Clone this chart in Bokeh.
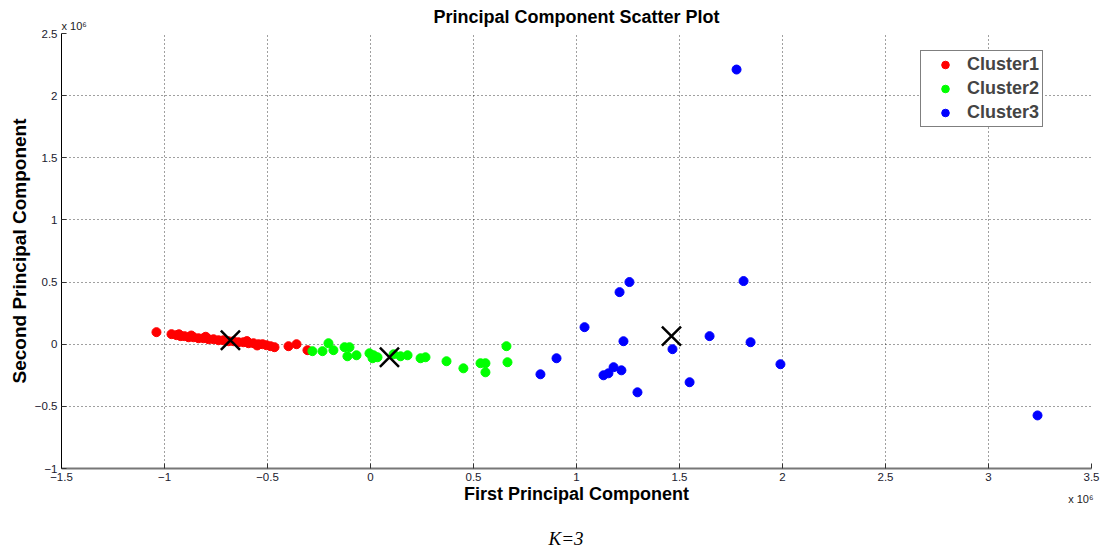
from bokeh.plotting import figure
from bokeh.models import Range1d, FixedTicker, Legend, LegendItem, Title
from bokeh.embed import file_html
from bokeh.resources import INLINE

# Values in units of 1e6
red_x = [-1.039, -0.966, -0.942, -0.922, -0.903, -0.883, -0.859, -0.835, -0.811, -0.786,
         -0.762, -0.738, -0.714, -0.689, -0.665, -0.641, -0.617, -0.592, -0.568, -0.544,
         -0.524, -0.505, -0.485, -0.466, -0.398, -0.359, -0.306, -0.93, -0.87, -0.80, -0.60, -0.55]
red_y = [0.097, 0.081, 0.073, 0.065, 0.065, 0.056, 0.056, 0.048, 0.048, 0.040,
         0.040, 0.032, 0.032, 0.024, 0.024, 0.016, 0.016, 0.008, 0.008, 0.000,
         0.000, -0.008, -0.016, -0.024, -0.016, 0.000, -0.048, 0.080, 0.070, 0.060, 0.025, -0.010]

green_x = [-0.282, -0.233, -0.204, -0.180, -0.126, -0.102, -0.112, -0.068, -0.005, 0.010,
           0.034, 0.015, 0.112, 0.146, 0.180, 0.243, 0.267, 0.369, 0.451, 0.534,
           0.558, 0.558, 0.660, 0.665]
green_y = [-0.056, -0.056, 0.008, -0.048, -0.024, -0.024, -0.097, -0.089, -0.073, -0.113,
           -0.105, -0.089, -0.081, -0.097, -0.089, -0.113, -0.105, -0.137, -0.194, -0.153,
           -0.153, -0.226, -0.016, -0.145]

blue_x = [0.825, 0.903, 1.039, 1.131, 1.155, 1.180, 1.218, 1.209, 1.257, 1.228,
          1.296, 1.466, 1.549, 1.646, 1.811, 1.845, 1.990, 1.777, 3.238]
blue_y = [-0.242, -0.113, 0.137, -0.250, -0.234, -0.185, -0.210, 0.419, 0.500, 0.024,
          -0.387, -0.040, -0.306, 0.065, 0.508, 0.016, -0.161, 2.210, -0.573]

centroid_x = [-0.680, 0.092, 1.461]
centroid_y = [0.032, -0.105, 0.065]

cluster_names = ["Cluster1", "Cluster2", "Cluster3"]
cluster_colors = ["#ff0000", "#00ff00", "#0000ff"]

x_ticks = [-1.5, -1.0, -0.5, 0.0, 0.5, 1.0, 1.5, 2.0, 2.5, 3.0, 3.5]
x_tick_labels = ["\u22121.5", "\u22121", "\u22120.5", "0", "0.5", "1", "1.5", "2", "2.5", "3", "3.5"]
y_ticks = [-1.0, -0.5, 0.0, 0.5, 1.0, 1.5, 2.0, 2.5]
y_tick_labels = ["\u22121", "\u22120.5", "0", "0.5", "1", "1.5", "2", "2.5"]

title_text = "Principal Component Scatter Plot"
x_label = "First Principal Component"
y_label = "Second Principal Component"
scale_text = "x 10\u2076"
caption_text = "K=3"

FONT = "Liberation Sans"

p = figure(width=1100, height=548, x_range=Range1d(-1.5, 3.5), y_range=Range1d(-1, 2.5),
           output_backend="svg", toolbar_location=None,
           min_border_left=61, min_border_right=9, min_border_top=33, min_border_bottom=80)
p.outline_line_color = None
p.background_fill_color = "white"
p.border_fill_color = "white"

# top: scale factor (nearest the frame), then the title
p.add_layout(Title(text=scale_text, align="left", vertical_align="bottom", standoff=3,
                   text_font=FONT, text_font_size="11px", text_font_style="normal",
                   text_color="#222222"), "above")
p.add_layout(Title(text=title_text, align="center", vertical_align="bottom", standoff=-21,
                   text_font=FONT, text_font_size="18px", text_font_style="bold",
                   text_color="black"), "above")

for ax, ticks, labels in ((p.xaxis[0], x_ticks, x_tick_labels), (p.yaxis[0], y_ticks, y_tick_labels)):
    ax.ticker = FixedTicker(ticks=ticks)
    ax.major_label_overrides = {t: l for t, l in zip(ticks, labels)}
    ax.major_label_text_font = FONT
    ax.major_label_text_font_size = "11.5px"
    ax.major_label_text_color = "#1a1a2e"
    ax.major_tick_in = 5
    ax.major_tick_out = 0
    ax.minor_tick_line_color = None
    ax.major_tick_line_color = "#333333"
    ax.major_label_standoff = 4
    ax.axis_label_text_font = FONT
    ax.axis_label_text_font_style = "bold"
    ax.axis_label_text_color = "black"

p.xaxis.axis_label = x_label
p.yaxis.axis_label = y_label
p.xaxis.axis_label_text_font_size = "18px"
p.yaxis.axis_label_text_font_size = "19px"
p.xaxis.axis_line_color = "#777777"
p.xaxis.axis_line_width = 2
p.yaxis.axis_line_color = "black"
p.xaxis.axis_label_standoff = 0
p.yaxis.axis_label_standoff = 2

for g in (p.xgrid[0], p.ygrid[0]):
    g.grid_line_color = "black"
    g.grid_line_dash = "1 3"
    g.grid_line_alpha = 0.75

r1 = p.scatter(red_x, red_y, size=9, fill_color=cluster_colors[0], line_color=cluster_colors[0])
r2 = p.scatter(green_x, green_y, size=9, fill_color=cluster_colors[1], line_color=cluster_colors[1])
r3 = p.scatter(blue_x, blue_y, size=9, fill_color=cluster_colors[2], line_color=cluster_colors[2])
p.scatter(centroid_x, centroid_y, marker="x", size=27, line_color="black", line_width=2.5)

legend = Legend(items=[LegendItem(label=cluster_names[i], renderers=[r]) for i, r in enumerate((r1, r2, r3))],
                location=(859, 341), padding=3, spacing=3, margin=0,
                glyph_width=42, glyph_height=19, label_height=19, label_standoff=1,
                label_text_font=FONT, label_text_font_size="18px", label_text_font_style="bold",
                border_line_color="black", border_line_width=1.2, background_fill_alpha=1)
p.add_layout(legend)

# bottom: spacer, caption, then scale factor pulled back up beside the axis label
p.add_layout(Title(text=" ", align="center", vertical_align="bottom", standoff=10,
                   text_font=FONT, text_font_size="11px"), "below")
p.add_layout(Title(text=caption_text, align="left", vertical_align="bottom", standoff=-10, offset=487,
                   text_font="Liberation Serif", text_font_style="italic",
                   text_font_size="19px", text_color="black"), "below")
p.add_layout(Title(text=scale_text, align="right", vertical_align="top", standoff=-102, offset=-2,
                   text_font=FONT, text_font_size="11px", text_font_style="normal",
                   text_color="#222222"), "below")

open("out.html", "w").write(file_html(p, INLINE))
